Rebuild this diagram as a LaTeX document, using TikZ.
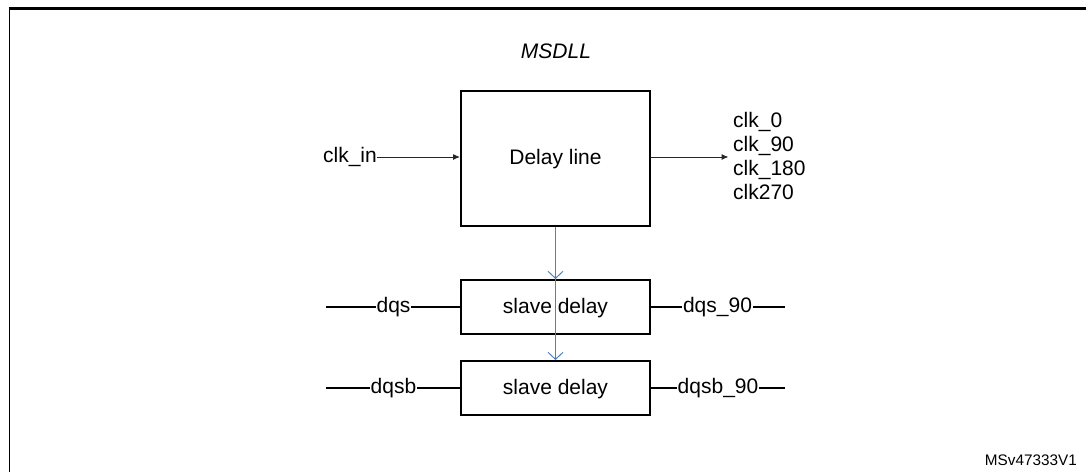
\documentclass[tikz,border=0pt]{standalone}
\usepackage{fontspec}
\setmainfont{Liberation Sans}
\usetikzlibrary{arrows.meta}
\definecolor{flowblue}{RGB}{79,129,189}
\begin{document}
\begin{tikzpicture}[x=1pt,y=-1pt,
  txt/.style={font=\fontsize{21}{24}\selectfont, inner sep=0pt},
  blockbox/.style={draw=black, line width=2pt, inner sep=0pt},
  sig/.style={draw=black, line width=2pt},
  thinarrow/.style={draw=black!85, line width=1pt, -{Latex[length=7pt,width=6pt]}},
  bluearrow/.style={draw=flowblue, line width=1pt, -{Straight Barb[length=7pt,width=15pt,line width=1pt]}}
]
\useasboundingbox (0,0) rectangle (1086,472);
% frame
\draw[line width=2.2pt] (8.6,8.5) -- (1086,8.5);
\draw[line width=1.4pt] (9.5,7.5) -- (9.5,472);
% title
\node[txt, font=\fontsize{21}{24}\selectfont\itshape, anchor=base] (title) at (556,58) {MSDLL};
% blocks
\node[blockbox, minimum width=189pt, minimum height=135pt] (dl) at (555.5,158.5) {};
\node[txt] (dltxt) at (555.5,159) {Delay line};
\node[blockbox, minimum width=189pt, minimum height=54pt] (sd1) at (555.5,307) {};
\node[blockbox, minimum width=189pt, minimum height=54pt] (sd2) at (555.5,388) {};
% blue arrows
\draw[bluearrow] (dl.south) -- (sd1.north);
\draw[bluearrow] (dl.south) -- (sd2.north);
\node[txt, fill=none] (sd1txt) at (555.5,308) {slave delay};
\node[txt] (sd2txt) at (555.5,389) {slave delay};
% clk in
\node[txt, anchor=east] (clkin) at (377,157) {clk\_in};
\draw[thinarrow] (clkin.east) -- (dl.west |- clkin.east);
% clk outs
\node[txt, anchor=west, align=left] (clkout) at (733,156) {clk\_0\\clk\_90\\clk\_180\\clk270};
\coordinate (outtip) at (728.5,157);
\draw[thinarrow] (dl.east |- outtip) -- (outtip);
% dqs
\coordinate (dqsL) at (326,307);
\coordinate (dqsR) at (785,307);
\node[txt, inner xsep=0.5pt] (dqs) at (393.5,307) {dqs};
\node[txt, inner xsep=0.5pt] (dqs90) at (717.5,307) {dqs\_90};
\draw[sig] (dqsL) -- (dqs.west);
\draw[sig] (dqs.east) -- (sd1.west);
\draw[sig] (sd1.east) -- (dqs90.west);
\draw[sig] (dqs90.east) -- (dqsR);
% dqsb
\coordinate (dqsbL) at (326,388);
\coordinate (dqsbR) at (785,388);
\node[txt, inner xsep=0.5pt] (dqsb) at (393.5,388) {dqsb};
\node[txt, inner xsep=0.5pt] (dqsb90) at (718,388) {dqsb\_90};
\draw[sig] (dqsbL) -- (dqsb.west);
\draw[sig] (dqsb.east) -- (sd2.west);
\draw[sig] (sd2.east) -- (dqsb90.west);
\draw[sig] (dqsb90.east) -- (dqsbR);
% id
\node[inner sep=0pt, anchor=base east, font=\fontsize{15.3}{18}\selectfont] (fid) at (1077,465) {MSv47333V1};
\end{tikzpicture}
\end{document}
